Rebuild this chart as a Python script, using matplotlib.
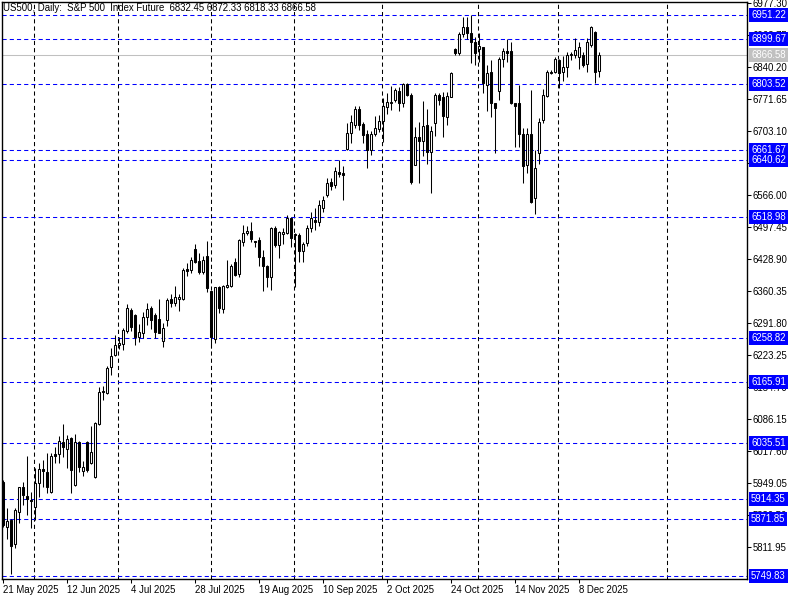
import matplotlib
matplotlib.use('Agg')  # no display in the sandbox
import matplotlib.pyplot as plt

plt.rcParams['font.family'] = ['Liberation Sans', 'DejaVu Sans']
plt.rcParams['lines.scale_dashes'] = False

# Daily OHLC, one entry per bar (bar 0 = 21 May 2025)
opens = [
    5951.9, 5855.5, 5869.7, 5818.4, 5887.6, 5939.8, 5921.9, 5912.6, 5896.9, 5948.3,
    5978.3, 5973.3, 5930.5, 6011.2, 6011.2, 6037.6, 6021.2, 6044.7, 5944.8, 6036.2,
    5975.5, 6037.6, 5992.6, 5962.6, 6075.4, 6146.1, 6142.6, 6196.8, 6222.5, 6243.9,
    6246.1, 6275.4, 6319.7, 6308.9, 6261.1, 6271.1, 6305.4, 6323.2, 6308.9, 6299.7,
    6253.2, 6298.2, 6342.5, 6333.9, 6343.9, 6343.2, 6406.8, 6405.3, 6449.6, 6424.6,
    6401.8, 6435.3, 6361.1, 6256.8, 6368.2, 6321.1, 6368.2, 6371.1, 6423.2, 6396.8,
    6466.0, 6483.9, 6488.9, 6468.2, 6469.6, 6433.9, 6413.9, 6391.1, 6494.6, 6458.9,
    6481.7, 6483.9, 6517.5, 6482.5, 6480.3, 6446.8, 6463.2, 6495.3, 6512.4, 6508.2,
    6538.1, 6566.0, 6594.6, 6586.7, 6615.3, 6612.4, 6663.8, 6699.5, 6715.2, 6749.5,
    6717.4, 6696.7, 6662.4, 6696.7, 6706.7, 6725.2, 6755.2, 6763.8, 6769.5, 6788.8,
    6763.8, 6803.1, 6780.2, 6630.3, 6689.5, 6682.4, 6715.9, 6658.8, 6719.5, 6780.2,
    6775.2, 6732.4, 6776.6, 6878.0, 6870.9, 6910.2, 6925.2, 6912.3, 6893.0, 6878.0,
    6882.3, 6801.6, 6830.2, 6762.4, 6788.8, 6856.6, 6874.5, 6874.5, 6762.4, 6762.4,
    6696.7, 6630.3, 6696.7, 6558.9, 6655.3, 6726.6, 6778.1, 6830.2, 6829.5, 6855.2,
    6828.8, 6840.9, 6865.2, 6865.2, 6860.8, 6865.9, 6845.9, 6886.6, 6914.5, 6832.45,
]
highs = [
    5955.5, 5894.8, 5871.2, 5894.8, 5941.2, 5950.5, 6006.9, 5930.5, 5980.5, 5991.2,
    5998.3, 6014.0, 6014.0, 6026.9, 6049.7, 6074.7, 6051.2, 6048.3, 6054.0, 6039.7,
    5996.9, 6039.0, 6071.1, 6080.4, 6154.0, 6157.6, 6199.7, 6237.5, 6266.1, 6262.5,
    6280.4, 6331.8, 6323.2, 6311.1, 6289.7, 6316.1, 6333.9, 6328.2, 6312.5, 6342.5,
    6292.5, 6344.6, 6353.9, 6371.1, 6353.9, 6408.9, 6419.6, 6432.5, 6461.0, 6441.0,
    6435.3, 6466.7, 6361.1, 6369.6, 6371.1, 6373.2, 6426.8, 6417.5, 6430.3, 6471.0,
    6501.7, 6499.6, 6508.2, 6468.2, 6476.8, 6448.2, 6416.0, 6496.7, 6499.6, 6489.6,
    6494.6, 6523.2, 6519.6, 6485.3, 6483.9, 6466.0, 6501.7, 6529.6, 6538.2, 6555.3,
    6563.9, 6601.7, 6601.7, 6625.3, 6641.0, 6628.1, 6719.5, 6737.4, 6756.6, 6756.6,
    6723.1, 6705.2, 6703.8, 6735.2, 6737.4, 6773.1, 6783.8, 6799.5, 6794.5, 6798.1,
    6805.2, 6806.6, 6783.8, 6712.4, 6723.1, 6767.4, 6749.5, 6713.8, 6783.8, 6785.2,
    6787.4, 6787.4, 6830.2, 6880.2, 6915.9, 6948.0, 6946.6, 6951.6, 6903.7, 6913.7,
    6882.3, 6844.5, 6855.2, 6762.4, 6862.3, 6880.2, 6899.5, 6894.5, 6762.4, 6801.6,
    6708.8, 6708.8, 6790.9, 6662.4, 6730.2, 6792.3, 6833.8, 6833.8, 6862.3, 6856.6,
    6862.8, 6873.0, 6873.0, 6901.6, 6894.5, 6873.0, 6901.6, 6928.0, 6918.0, 6872.33,
]
lows = [
    5854.1, 5828.4, 5754.1, 5809.1, 5862.6, 5901.9, 5880.5, 5851.9, 5869.7, 5919.8,
    5941.2, 5926.9, 5928.3, 5991.2, 5991.2, 6005.5, 5980.5, 5926.9, 5942.6, 5973.3,
    5964.0, 5973.3, 5989.7, 5959.1, 6073.3, 6126.8, 6139.7, 6180.4, 6221.8, 6235.4,
    6233.9, 6269.7, 6275.4, 6244.7, 6251.8, 6260.4, 6287.5, 6278.3, 6258.9, 6269.7,
    6239.7, 6285.4, 6325.4, 6328.2, 6318.2, 6341.1, 6392.5, 6399.6, 6419.6, 6396.8,
    6396.8, 6358.9, 6237.5, 6248.2, 6312.5, 6312.5, 6366.1, 6368.2, 6392.5, 6391.1,
    6456.7, 6480.3, 6466.0, 6455.3, 6413.9, 6361.1, 6369.6, 6362.5, 6455.3, 6430.3,
    6461.0, 6481.7, 6455.3, 6369.6, 6423.2, 6423.2, 6456.7, 6486.7, 6491.0, 6499.6,
    6529.6, 6562.4, 6576.7, 6580.3, 6605.3, 6555.3, 6662.4, 6678.1, 6708.8, 6705.2,
    6676.7, 6623.1, 6651.7, 6692.4, 6701.7, 6680.3, 6739.5, 6748.1, 6765.9, 6746.7,
    6755.2, 6778.1, 6589.6, 6630.3, 6592.4, 6649.5, 6632.4, 6571.0, 6692.4, 6758.8,
    6689.5, 6715.9, 6775.2, 6865.9, 6865.9, 6903.7, 6899.5, 6849.5, 6844.5, 6851.6,
    6785.2, 6746.6, 6732.4, 6655.3, 6769.5, 6839.5, 6851.6, 6760.9, 6669.5, 6669.5,
    6592.4, 6612.4, 6549.6, 6525.3, 6632.4, 6719.5, 6775.2, 6825.2, 6826.6, 6794.5,
    6810.9, 6818.1, 6855.2, 6858.8, 6835.2, 6840.9, 6830.2, 6883.8, 6805.2, 6818.33,
]
closes = [
    5859.1, 5867.6, 5814.1, 5891.2, 5939.8, 5923.3, 5914.8, 5911.2, 5948.3, 5978.3,
    5974.7, 5939.8, 6006.9, 6007.6, 6039.7, 6026.9, 6042.6, 5976.9, 6036.2, 5984.0,
    5982.6, 5976.9, 6014.7, 6076.9, 6143.3, 6143.3, 6194.7, 6221.1, 6244.7, 6249.7,
    6276.8, 6323.2, 6283.9, 6262.5, 6271.8, 6305.4, 6321.1, 6298.2, 6273.2, 6271.1,
    6280.4, 6341.1, 6333.9, 6348.2, 6346.8, 6405.3, 6402.5, 6426.8, 6423.2, 6401.8,
    6426.8, 6366.1, 6262.5, 6368.2, 6323.2, 6371.1, 6373.2, 6413.9, 6394.6, 6469.6,
    6485.3, 6488.9, 6471.0, 6465.3, 6433.9, 6413.9, 6389.6, 6494.6, 6458.9, 6486.0,
    6486.0, 6517.5, 6474.6, 6479.6, 6446.8, 6461.0, 6495.3, 6516.7, 6508.2, 6544.6,
    6555.3, 6591.0, 6585.3, 6617.4, 6611.0, 6608.1, 6698.1, 6723.1, 6749.5, 6715.2,
    6694.5, 6662.4, 6696.7, 6708.8, 6724.5, 6756.6, 6764.5, 6765.9, 6790.9, 6763.8,
    6803.1, 6780.2, 6594.6, 6689.5, 6682.4, 6713.8, 6658.8, 6703.1, 6780.2, 6769.5,
    6735.2, 6778.1, 6826.6, 6869.5, 6910.9, 6925.2, 6912.3, 6893.0, 6870.9, 6885.2,
    6805.2, 6826.6, 6763.8, 6751.6, 6856.6, 6874.5, 6870.9, 6762.4, 6757.4, 6696.0,
    6628.1, 6696.7, 6551.7, 6623.1, 6723.1, 6780.2, 6828.8, 6826.6, 6856.6, 6826.6,
    6840.9, 6865.9, 6867.3, 6876.6, 6882.3, 6844.5, 6893.0, 6925.2, 6830.2, 6866.58,
]

# horizontal support / resistance levels and current bid
levels = [6951.22, 6899.67, 6803.52, 6661.67, 6640.62, 6518.98,
          6258.82, 6165.91, 6035.51, 5914.35, 5871.85, 5749.83]
bid = 6866.58

price_ticks = [6977.30, 6908.75, 6840.20, 6771.65, 6703.10, 6634.55, 6566.00,
               6497.45, 6428.90, 6360.35, 6291.80, 6223.25, 6154.70, 6086.15,
               6017.60, 5949.05, 5880.50, 5811.95]
date_pos = [0, 16, 32, 48, 64, 80, 96, 112, 128, 144]
date_labels = ['21 May 2025', '12 Jun 2025', '4 Jul 2025', '28 Jul 2025',
               '19 Aug 2025', '10 Sep 2025', '2 Oct 2025', '24 Oct 2025',
               '14 Nov 2025', '8 Dec 2025']
# month separators of the chart grid (in bar units)
grid_bars = [7.8, 28.8, 51.9, 72.8, 94.8, 118.8, 138.8, 166.0]

title = 'US500, Daily:  S&P 500  Index Future  6832.45 6872.33 6818.33 6866.58'
fsize = 6.9

fig = plt.figure(figsize=(8, 6), dpi=100)
ax = fig.add_axes([2 / 800, 21 / 600, 745 / 800, 577 / 600])
ax.set_xlim(-0.25, 186)
ax.set_ylim(5743.4, 6979.4)

dash = (0, (3, 2.2))
for gx in grid_bars:
    ax.axvline(gx, color='black', lw=0.75, ls=dash, zorder=1)
for lv in levels:
    ax.axhline(lv, color='#0000ff', lw=0.75, ls=dash, zorder=1)
ax.axhline(bid, color='#c0c0c0', lw=0.75, zorder=1)

# candles
idx = list(range(len(closes)))
ax.vlines(idx, lows, highs, color='black', lw=0.75, zorder=2)
bottoms = [min(o, c) for o, c in zip(opens, closes)]
heights = [max(abs(c - o), 0.8) for o, c in zip(opens, closes)]
fills = ['white' if c >= o else 'black' for o, c in zip(opens, closes)]
ax.bar(idx, heights, bottom=bottoms, width=0.5, color=fills,
       edgecolor='black', linewidth=0.75, zorder=3)

# axes styling, MT4 look
for sp in ax.spines.values():
    sp.set_color('black')
    sp.set_linewidth(1)
ax.yaxis.tick_right()
ax.set_yticks(price_ticks)
ax.set_yticklabels([f'{p:.2f}' for p in price_ticks])
ax.set_xticks(date_pos)
ax.set_xticklabels(date_labels, ha='left')
ax.tick_params(axis='y', direction='out', length=3, width=0.75, pad=1,
               labelsize=fsize, colors='black')
ax.tick_params(axis='x', direction='out', length=3, width=0.75, pad=1,
               labelsize=fsize, colors='black')

# price labels on the right
for lv in levels:
    ax.text(1.0055, lv, f'{lv:.2f}', transform=ax.get_yaxis_transform(),
            color='white', fontsize=fsize, va='center', ha='left', zorder=6,
            bbox=dict(boxstyle='square,pad=0.2', fc='#0000ff', ec='none'))
ax.text(1.0055, bid, f'{bid:.2f}', transform=ax.get_yaxis_transform(),
        color='white', fontsize=fsize, va='center', ha='left', zorder=6,
        bbox=dict(boxstyle='square,pad=0.2', fc='#c0c0c0', ec='none'))

ax.text(0.002, 0.998, title, transform=ax.transAxes, va='top', ha='left',
        fontsize=fsize, color='black', zorder=6)

fig.savefig('out.png', dpi=100)
